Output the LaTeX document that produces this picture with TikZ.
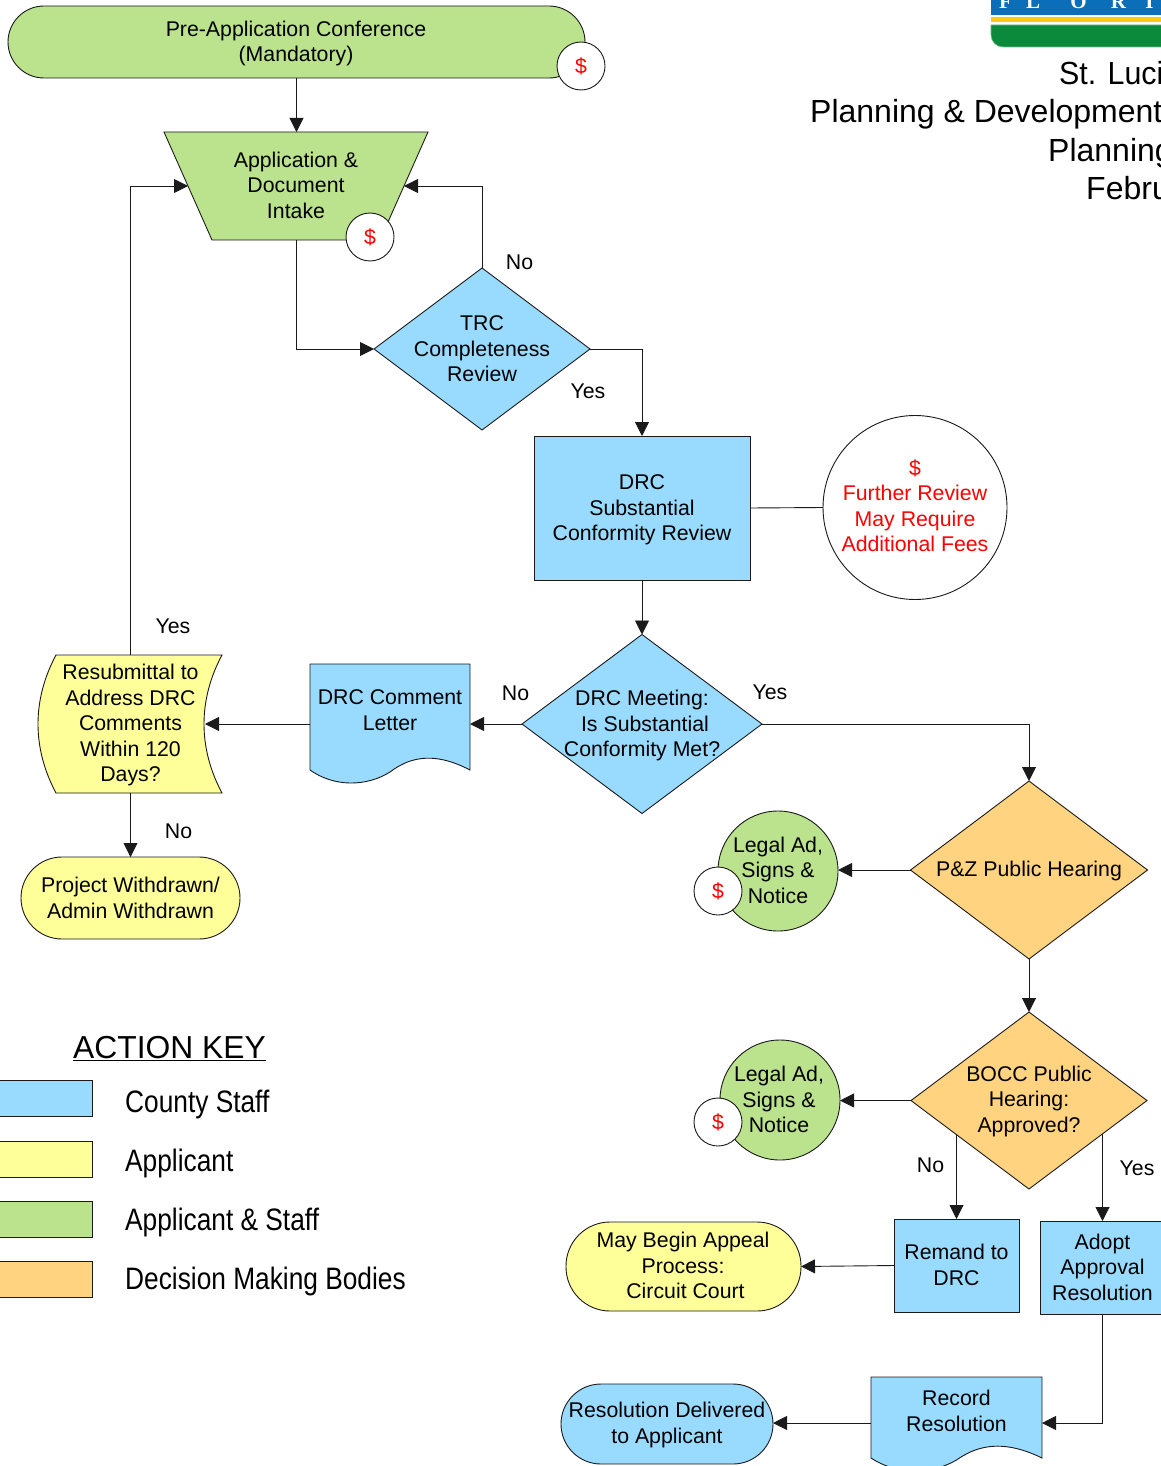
\documentclass[tikz,border=0pt]{standalone}
\usepackage{fontspec}
\setmainfont{Liberation Sans}
\newfontfamily\logofont{Liberation Serif}
\usetikzlibrary{shapes.geometric,arrows.meta,calc}
\definecolor{cblue}{HTML}{99DBFF}
\definecolor{cyellow}{HTML}{FFFF99}
\definecolor{cgreen}{HTML}{BBE28D}
\definecolor{corange}{HTML}{FFD37F}
\definecolor{lineC}{HTML}{1A1A1A}
\definecolor{logoblue}{HTML}{0A6FB8}
\definecolor{logoyellow}{HTML}{FFC915}
\definecolor{logogreen}{HTML}{0B8A3C}
\newcommand{\stretchtxt}[1]{\scalebox{.848}[1]{#1}}
\newcommand{\wavebox}[7]{% x y w baseY fill name connectorY
  \draw[shapeline,fill=#5] (#1,#2) -- (#1+#3,#2) -- (#1+#3,#4)
    .. controls (#1+.75*#3,#4-21) and (#1+.6*#3,#4-10) .. (#1+.5*#3,#4+2)
    .. controls (#1+.35*#3,#4+17) and (#1+.15*#3,#4+17) .. (#1,#4) -- cycle;
  \coordinate (#6W) at (#1,#7);
  \coordinate (#6E) at (#1+#3,#7);
}
\tikzset{
  shapeline/.style={draw=lineC,line width=.9pt},
  txt/.style={font=\fontsize{21.3}{25.5}\selectfont,align=center,inner sep=0pt,text=black},
  rbox/.style={rectangle,shapeline,inner sep=0pt,outer sep=0pt,fill=cblue,txt},
  term/.style={rectangle,shapeline,inner sep=0pt,outer sep=0pt},
  dia/.style={diamond,shapeline,inner sep=0pt,outer sep=0pt},
  fee/.style={circle,shapeline,fill=white,inner sep=0pt,outer sep=0pt,minimum size=48pt,txt,text=red},
  blob/.style={circle,shapeline,fill=cgreen,inner sep=0pt,outer sep=0pt,minimum size=120pt},
  swatch/.style={rectangle,shapeline,inner sep=0pt,outer sep=0pt,minimum width=94pt,minimum height=36pt},
  keytxt/.style={anchor=base west,font=\fontsize{31}{36}\selectfont,inner sep=0pt},
  head/.style={anchor=base west,font=\fontsize{32}{38}\selectfont,inner sep=0pt},
  logoL/.style={anchor=base,font=\logofont\bfseries\fontsize{21}{21}\selectfont,text=white,inner sep=0pt},
  conn/.style={draw=lineC,line width=.9pt,-{Triangle[length=14pt,width=14pt]}},
  plainc/.style={draw=lineC,line width=.9pt}
}
\begin{document}
\begin{tikzpicture}[x=1pt,y=-1pt]
\useasboundingbox (0,0) rectangle (1161,1466);
\clip (0,0) rectangle (1161,1466);

% logo
\fill[logoblue] (991,-5) rectangle (1170,15.5);
\fill[logoyellow] (991,17) rectangle (1170,22);
\draw[fill=logogreen,draw=logogreen!60!white,line width=.6pt] (991,25) -- (1170,25) -- (1170,47) -- (1003,47) arc[start angle=90,end angle=180,radius=12pt,y radius=-12pt] -- cycle;
\node[logoL] (lf) at (1005.5,9) {F};
\node[logoL] (ll) at (1033,9) {L};
\node[logoL] (lo) at (1078.5,9) {O};
\node[logoL] (lr) at (1118.5,9) {R};
\node[logoL] (li) at (1149.5,9) {I};
% header
\node[head] (h1) at (1059,85) {\scalebox{.95}[1]{St. Luci}};
\node[head] (h2) at (810,123) {Planning \& Development};
\node[head] (h3) at (1048,162) {Planning};
\node[head] (h4) at (1086,200) {Febru};

% pre-application
\node[term,fill=cgreen,rounded corners=36pt,minimum width=577pt,minimum height=72pt] (pre) at (296.5,42) {};
\node[txt] (preT) at (296,43.5) {Pre-Application Conference\\(Mandatory)};

% intake
\draw[shapeline,fill=cgreen] (164,132) -- (428,132) -- (380,240) -- (212,240) -- cycle;
\coordinate (intN) at (296.5,132);
\coordinate (intS) at (296,240);
\coordinate (intW) at (188,186);
\coordinate (intE) at (404,186);
\node[txt] (intT) at (296,185) {Application \&\\Document\\Intake};

% TRC
\node[dia,fill=cblue,minimum width=216pt,minimum height=162pt] (trc) at (482,349) {};
\node[txt] (trcT) at (482,349) {TRC\\Completeness\\Review};

% DRC review
\node[rbox,minimum width=216pt,minimum height=144pt] (drc) at (642,508) {};
\node[txt] (drcT) at (642,510) {DRC\\Substantial\\Conformity Review};
\node[circle,shapeline,fill=white,inner sep=0pt,outer sep=0pt,minimum size=184pt] (further) at (915,507.5) {};
\node[txt,text=red] (furtherT) at (915,505.5) {\$\\Further Review\\May Require\\Additional Fees};

% DRC meeting
\node[dia,fill=cblue,minimum width=240pt,minimum height=179pt] (meet) at (642,724) {};
\node[txt] (meetT) at (642,725.5) {DRC Meeting:\\\hspace{6pt}Is Substantial\\Conformity Met?};

% comment letter
\wavebox{310}{664}{160}{770}{cblue}{let}{724}
\node[txt] (letT) at (390,710) {DRC Comment\\Letter};

% resubmittal
\draw[shapeline,fill=cyellow] (56,655) -- (222,655) .. controls (198,700) and (198,748) .. (222,793) -- (56,793) .. controls (32,748) and (32,700) .. (56,655) -- cycle;
\coordinate (resN) at (130.5,655);
\coordinate (resS) at (130.5,793);
\coordinate (resE) at (205,724);
\node[txt] (resT) at (130.5,725) {Resubmittal to\\Address DRC\\Comments\\Within 120\\Days?};

% withdrawn
\node[term,fill=cyellow,rounded corners=41pt,minimum width=219pt,minimum height=82pt] (wd) at (130.5,898) {};
\node[txt] (wdT) at (130.5,898) {Project Withdrawn/\\Admin Withdrawn};

% P&Z
\node[dia,fill=corange,minimum width=237pt,minimum height=178pt] (pz) at (1029,870) {};
\node[txt] (pzT) at (1029,871) {P\&Z Public Hearing};
\node[blob] (ad1) at (778,871) {};
\node[fee] (fee3) at (718,891) {\$};
\node[txt] (ad1T) at (778,870) {Legal Ad,\\Signs \&\\Notice};

% BOCC
\node[dia,fill=corange,minimum width=236pt,minimum height=177pt] (bocc) at (1029,1100.5) {};
\node[txt] (boccT) at (1029,1101) {BOCC Public\\Hearing:\\Approved?};
\node[blob] (ad2) at (780,1100) {};
\node[fee] (fee4) at (718,1122) {\$};
\node[txt] (ad2T) at (779,1099.5) {Legal Ad,\\Signs \&\\Notice};
\coordinate (bNo) at ($(bocc.west)!.381!(bocc.south)$);
\coordinate (bYes) at ($(bocc.east)!.381!(bocc.south)$);

% results
\node[rbox,minimum width=125pt,minimum height=93pt] (rem) at (956.5,1265.5) {\raisebox{1pt}{Remand to}\\\raisebox{1pt}{DRC}};
\node[rbox,minimum width=122pt,minimum height=93pt,anchor=north west] (adopt) at (1040,1221) {};
\node[txt] (adoptT) at (1102.5,1267) {Adopt\\Approval\\Resolution};
\node[term,fill=cyellow,rounded corners=44pt,minimum width=235pt,minimum height=89pt] (app) at (683.5,1266.5) {};
\node[txt] (appT) at (683,1265.5) {May Begin Appeal\\Process:\\\hspace{5pt}Circuit Court};
\wavebox{871}{1377}{171}{1458}{cblue}{rec}{1423}
\node[txt] (recT) at (956.5,1411) {Record\\Resolution};
\node[term,fill=cblue,rounded corners=40pt,minimum width=212pt,minimum height=80pt] (del) at (667,1424) {};
\node[txt] (delT) at (667,1425) {Resolution Delivered\\to Applicant};

% fee circles on top shapes
\node[fee] (fee1) at (581,66) {\$};
\node[fee] (fee2) at (370,237) {\$};

% connectors
\draw[conn] (pre.south -| intN) -- (intN);
\draw[conn] (intS) |- (trc.west);
\draw[conn] (trc.north) |- (intE);
\draw[conn] (trc.east) -| (drc.north);
\draw[plainc] (drc.east) -- (further.west);
\draw[conn] (drc.south) -- (meet.north);
\draw[conn] (meet.west) -- (letE);
\draw[conn] (letW) -- (resE);
\draw[conn] (resN) |- (intW);
\draw[conn] (resS) -- (wd.north);
\draw[conn] (meet.east) -| (pz.north);
\draw[conn] (pz.west) -- (pz.west -| ad1.east);
\draw[conn] (pz.south) -- (bocc.north);
\draw[conn] (bocc.west) -- (bocc.west -| ad2.east);
\draw[conn] (bNo -| rem.north) -- (rem.north);
\draw[conn] (bYes -| adoptT.center) -- (adopt.north -| adoptT.center);
\draw[conn] (rem.west) -- (app.east);
\draw[conn] (adopt.south -| adoptT.center) |- (recE);
\draw[conn] (recW) -- (del.east |- recW);

% branch labels
\node[txt] (l1) at (519.5,262) {No};
\node[txt] (l2) at (588,391) {Yes};
\node[txt] (l3) at (173,626) {Yes};
\node[txt] (l4) at (515.5,693) {No};
\node[txt] (l5) at (770,692) {Yes};
\node[txt] (l6) at (178.5,831) {No};
\node[txt] (l7) at (930.5,1165) {No};
\node[txt] (l8) at (1137,1168) {Yes};

% key
\node[anchor=base west,font=\fontsize{31.8}{36}\selectfont,inner sep=0pt] (keyT) at (73,1058) {\underline{ACTION KEY}};
\node[swatch,fill=cblue,anchor=north east] (k1) at (92,1080) {};
\node[swatch,fill=cyellow,anchor=north east] (k2) at (92,1141) {};
\node[swatch,fill=cgreen,anchor=north east] (k3) at (92,1201) {};
\node[swatch,fill=corange,anchor=north east] (k4) at (92,1261.5) {};
\node[keytxt] (kt1) at (125,1112) {\stretchtxt{County Staff}};
\node[keytxt] (kt2) at (125,1171) {\stretchtxt{Applicant}};
\node[keytxt] (kt3) at (125,1230) {\stretchtxt{Applicant \& Staff}};
\node[keytxt] (kt4) at (125,1289) {\stretchtxt{Decision Making Bodies}};
\end{tikzpicture}
\end{document}
